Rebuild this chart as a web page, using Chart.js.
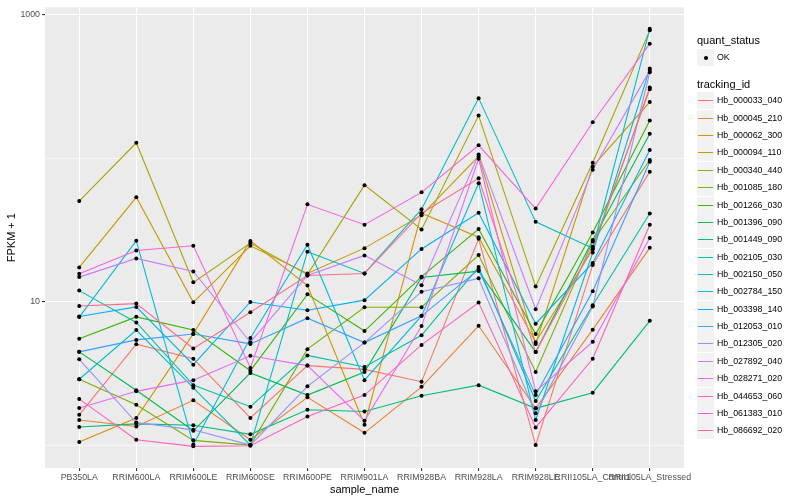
<!DOCTYPE html>
<html>
<head>
<meta charset="utf-8">
<script src="https://cdn.jsdelivr.net/npm/chart.js@4.4.1/dist/chart.umd.min.js"></script>
<style>
  html, body { margin: 0; padding: 0; background: #fff; }
  #wrap { position: relative; width: 800px; height: 500px; font-family: "Liberation Sans", Arial, sans-serif; }
  #chart { position: absolute; left: 0; top: 0; }
  .lg-title { position: absolute; left: 697px; font-size: 11px; color: #000; line-height: 12px; }
  .lg-key { position: absolute; left: 697px; width: 17px; height: 17px; background: #F2F2F2; }
  .lg-key span { position: absolute; left: 1px; width: 15px; top: 8px; height: 1px; }
  .lg-key i { position: absolute; left: 6.5px; top: 6.5px; width: 4px; height: 4px; border-radius: 50%; background: #000; }
  .lg-text { position: absolute; left: 717px; font-size: 8.8px; color: #000; line-height: 10px; }
</style>
</head>
<body>
<div id="wrap">
  <canvas id="chart" width="800" height="500"></canvas>
  <div id="legend"></div>
</div>
<script>
// x categories (sample_name)
const categories = [
  'PB350LA', 'RRIM600LA', 'RRIM600LE', 'RRIM600SE', 'RRIM600PE', 'RRIM901LA',
  'RRIM928BA', 'RRIM928LA', 'RRIM928LE', 'RRII105LA_Control', 'RRII105LA_Stressed',
]

// FPKM + 1, one array per tracking_id
const hb_000033_040 = [1.64, 5.09, 4.03, 1.56, 3.61, 3.40, 2.79, 27.5, 1.01, 18.1, 80.7]
const hb_000045_210 = [1.51, 1.36, 2.07, 1.10, 2.17, 1.23, 2.57, 6.83, 1.82, 6.42, 23.8]
const hb_000062_300 = [1.06, 1.56, 6.02, 26.6, 13.0, 1.40, 41.5, 28.2, 5.25, 23.3, 311]
const hb_000094_110 = [17.4, 53.5, 9.95, 24.6, 15.8, 23.7, 40.2, 103, 5.11, 87.8, 246]
const hb_000340_440 = [50.4, 128, 13.7, 25.7, 15.5, 65.0, 32.0, 198, 12.8, 93.1, 776]
const hb_001085_180 = [2.90, 1.93, 1.09, 1.01, 4.70, 9.19, 9.19, 21.2, 3.26, 26.4, 97.2]
const hb_001266_030 = [5.56, 7.88, 6.38, 3.33, 11.3, 6.28, 15.0, 32.2, 5.99, 30.4, 183]
const hb_001396_090 = [4.50, 2.43, 1.27, 3.21, 2.25, 3.26, 14.8, 16.4, 4.48, 27.0, 148]
const hb_001449_090 = [1.35, 1.42, 1.39, 1.20, 1.78, 1.73, 2.23, 2.64, 1.82, 2.34, 7.40]
const hb_002105_030 = [12.0, 7.21, 2.64, 1.87, 4.25, 3.53, 5.87, 17.5, 2.05, 9.49, 41.3]
const hb_002150_050 = [2.90, 6.38, 2.53, 1.01, 22.4, 15.8, 44.2, 262, 36.1, 23.7, 796]
const hb_002784_150 = [7.85, 26.7, 1.02, 5.62, 25.0, 2.86, 8.01, 67.1, 1.51, 22.1, 422]
const hb_003398_140 = [7.93, 9.24, 3.66, 10.0, 8.77, 10.3, 23.4, 41.7, 7.06, 18.7, 114]
const hb_012053_010 = [4.50, 5.45, 5.99, 5.11, 7.72, 5.22, 8.01, 16.8, 2.25, 11.9, 94.6]
const hb_012305_020 = [3.99, 1.45, 1.29, 1.01, 2.59, 5.22, 11.8, 14.6, 1.68, 9.30, 396]
const hb_027892_040 = [14.9, 20.1, 16.3, 5.25, 15.3, 21.1, 13.1, 106, 8.91, 83.3, 407]
const hb_028271_020 = [1.83, 2.39, 2.86, 4.23, 3.61, 1.49, 6.80, 99.2, 2.39, 5.28, 27.9]
const hb_044653_060 = [15.7, 22.8, 24.6, 3.48, 47.8, 34.5, 57.9, 123, 44.7, 178, 627]
const hb_061383_010 = [2.11, 1.10, 0.99, 1.00, 1.60, 2.25, 5.03, 9.90, 1.34, 4.03, 34.5]
const hb_086692_020 = [9.38, 9.75, 4.75, 8.49, 15.3, 15.8, 41.5, 72.6, 4.48, 24.2, 302]

const trackingIds = [
  'Hb_000033_040', 'Hb_000045_210', 'Hb_000062_300', 'Hb_000094_110', 'Hb_000340_440',
  'Hb_001085_180', 'Hb_001266_030', 'Hb_001396_090', 'Hb_001449_090', 'Hb_002105_030',
  'Hb_002150_050', 'Hb_002784_150', 'Hb_003398_140', 'Hb_012053_010', 'Hb_012305_020',
  'Hb_027892_040', 'Hb_028271_020', 'Hb_044653_060', 'Hb_061383_010', 'Hb_086692_020',
]
const seriesValues = [
  hb_000033_040, hb_000045_210, hb_000062_300, hb_000094_110, hb_000340_440,
  hb_001085_180, hb_001266_030, hb_001396_090, hb_001449_090, hb_002105_030,
  hb_002150_050, hb_002784_150, hb_003398_140, hb_012053_010, hb_012305_020,
  hb_027892_040, hb_028271_020, hb_044653_060, hb_061383_010, hb_086692_020,
]

// ggplot default hue palette, 20 levels
const lineColors = [
  '#F8766D', '#EA8331', '#D89000', '#C09B00', '#A3A500', '#7CAE00', '#39B600',
  '#00BB4E', '#00BF7D', '#00C1A3', '#00BFC4', '#00BAE0', '#00B0F6', '#35A2FF',
  '#9590FF', '#C77CFF', '#E76BF3', '#FA62DB', '#FF62BC', '#FF6C91',
]

const yMajorBreaks = [10, 1000]
const yMinorBreaks = [1, 100]
const yRange = [0.727, 1123]

const FONT = '"Liberation Sans", Arial, sans-serif'

const panelBackground = {
  id: 'panelBackground',
  beforeDraw(chart) {
    const { ctx, chartArea: a } = chart
    ctx.save()
    ctx.fillStyle = '#EBEBEB'
    ctx.fillRect(a.left, a.top, a.right - a.left, a.bottom - a.top)
    ctx.restore()
  }
}

const toPoints = values => values.map((v, i) => ({ x: i, y: v }))

const lineDatasets = seriesValues.map((values, index) => ({
  label: trackingIds[index],
  data: toPoints(values),
  borderColor: lineColors[index],
  borderWidth: 1.1,
  pointRadius: 0,
  tension: 0,
  order: 100 - index,
}))

// quant_status = OK points, drawn above every line
const pointDataset = {
  label: 'OK',
  type: 'scatter',
  data: seriesValues.flatMap(toPoints),
  backgroundColor: '#000',
  borderWidth: 0,
  pointRadius: 2,
  order: 0,
}

new Chart(document.getElementById('chart'), {
  type: 'line',
  data: { datasets: [...lineDatasets, pointDataset] },
  plugins: [panelBackground],
  options: {
    responsive: false,
    animation: false,
    devicePixelRatio: 1,
    layout: { padding: { left: 0, top: 5, right: 116, bottom: 0 } },
    plugins: {
      legend: { display: false },
      tooltip: { enabled: false },
    },
    scales: {
      x: {
        type: 'linear',
        min: -0.6,
        max: categories.length - 0.4,
        afterBuildTicks: scale => { scale.ticks = categories.map((_, i) => ({ value: i })) },
        afterFit: scale => { scale.height = 32 },
        border: { display: false },
        grid: { color: '#FFFFFF', lineWidth: 1.1, tickColor: '#333333', tickLength: 3 },
        ticks: {
          autoSkip: false, maxRotation: 0, padding: 1,
          color: '#4D4D4D', font: { family: FONT, size: 8.8 },
          callback: value => categories[value],
        },
        title: {
          display: true, text: 'sample_name', color: '#000',
          font: { family: FONT, size: 11 }, padding: { top: 0, bottom: 3 },
        },
      },
      y: {
        type: 'logarithmic',
        min: yRange[0],
        max: yRange[1],
        afterBuildTicks: scale => {
          scale.ticks = [...yMinorBreaks, ...yMajorBreaks].sort((a, b) => a - b).map(value => ({ value }))
        },
        afterFit: scale => { scale.width = 45 },
        border: { display: false },
        grid: {
          color: '#FFFFFF',
          lineWidth: ctx => yMajorBreaks.includes(ctx.tick?.value) ? 1.1 : 0.55,
          tickColor: ctx => yMajorBreaks.includes(ctx.tick?.value) ? '#333333' : 'rgba(0,0,0,0)',
          tickLength: 3,
        },
        ticks: {
          padding: 2, color: '#4D4D4D', font: { family: FONT, size: 8.8 },
          callback: value => yMajorBreaks.includes(value) ? String(value) : '',
        },
        title: {
          display: true, text: 'FPKM + 1', color: '#000',
          font: { family: FONT, size: 11 }, padding: { top: 5, bottom: 0 },
        },
      },
    },
  },
})

// ggplot style legend on the right, built from the same arrays
function buildLegend() {
  const root = document.getElementById('legend')
  const rows = []
  rows.push(`<div class="lg-title" style="top:34px">quant_status</div>`)
  rows.push(`<div class="lg-key" style="top:49px"><i></i></div>`)
  rows.push(`<div class="lg-text" style="top:52px">OK</div>`)
  rows.push(`<div class="lg-title" style="top:78px">tracking_id</div>`)
  trackingIds.forEach((id, index) => {
    const center = Math.round(100.3 + 17.37 * index)
    rows.push(`<div class="lg-key" style="top:${center - 8}px"><span style="background:${lineColors[index]}"></span></div>`)
    rows.push(`<div class="lg-text" style="top:${center - 5}px">${id}</div>`)
  })
  root.innerHTML = rows.join('')
}
buildLegend()
</script>
</body>
</html>
